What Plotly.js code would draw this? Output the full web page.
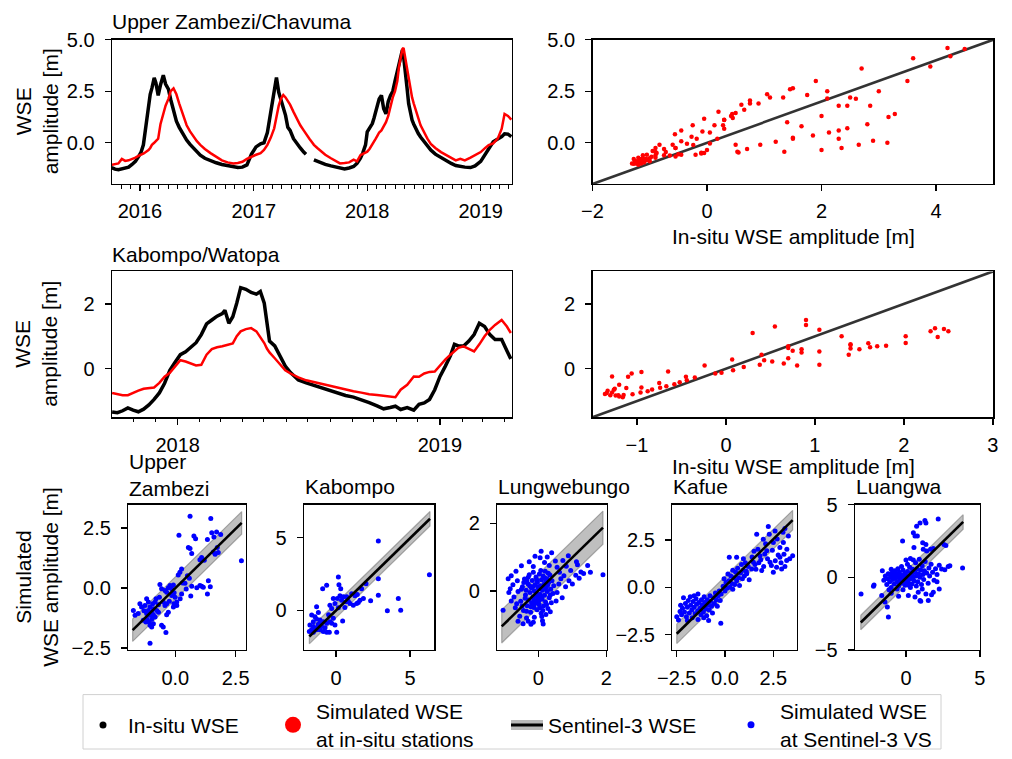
<!DOCTYPE html>
<html>
<head>
<meta charset="utf-8">
<script src="https://cdn.plot.ly/plotly-3.0.1.min.js"></script>
<style>html,body{margin:0;padding:0;background:#fff;}#chart{width:1012px;height:759px;}</style>
</head>
<body>
<div id="chart"></div>
<script>
// ---------------- DATA ----------------
// Upper Zambezi / Chavuma: [decimal year, in-situ WSE amplitude, simulated WSE amplitude]
const chavuma = [
[2015.75,-1.20,-1.07],[2015.78,-1.28,-1.02],[2015.81,-1.31,-1.00],[2015.84,-1.28,-0.78],
[2015.87,-1.25,-0.88],[2015.90,-1.18,-0.85],[2015.93,-1.05,-0.80],[2015.96,-0.90,-0.72],
[2015.99,-0.65,-0.62],[2016.01,-0.45,-0.58],[2016.03,-0.10,-0.52],[2016.045,0.55,-0.47],
[2016.06,1.35,-0.43],[2016.075,2.00,-0.35],[2016.09,2.35,-0.25],[2016.105,2.65,-0.10],
[2016.125,3.15,0.00],[2016.14,2.90,0.10],[2016.16,2.30,0.20],[2016.18,2.80,0.90],
[2016.205,3.28,1.40],[2016.225,2.85,1.80],[2016.25,2.60,2.13],[2016.27,2.10,2.50],
[2016.295,1.50,2.64],[2016.32,1.05,2.35],[2016.345,0.75,1.90],[2016.37,0.50,1.45],
[2016.39,0.30,1.10],[2016.41,0.13,0.85],[2016.44,-0.08,0.55],[2016.47,-0.27,0.29],
[2016.50,-0.45,0.08],[2016.53,-0.60,-0.10],[2016.57,-0.75,-0.30],[2016.62,-0.88,-0.50],
[2016.67,-0.97,-0.68],[2016.72,-1.05,-0.85],[2016.77,-1.10,-0.95],[2016.82,-1.15,-1.00],
[2016.86,-1.20,-0.98],[2016.90,-1.18,-0.92],[2016.94,-1.07,-0.78],[2016.98,-0.55,-0.67],
[2017.02,-0.20,-0.58],[2017.06,-0.05,-0.50],[2017.09,0.00,-0.35],[2017.12,0.50,-0.10],
[2017.15,1.50,0.25],[2017.18,2.45,0.70],[2017.20,3.17,1.25],[2017.22,2.45,1.80],
[2017.24,2.10,2.15],[2017.26,1.75,2.32],[2017.28,1.33,2.20],[2017.30,0.75,2.05],
[2017.32,0.60,1.85],[2017.35,0.20,1.50],[2017.38,-0.05,1.17],[2017.41,-0.25,0.85],
[2017.44,-0.45,0.60],[2017.46,-0.56,0.42],[2017.49,null,0.20],[2017.51,null,0.05],
[2017.53,-0.83,-0.10],[2017.56,-0.90,-0.25],[2017.59,-0.95,-0.40],[2017.63,-1.05,-0.58],
[2017.68,-1.12,-0.75],[2017.72,-1.18,-0.88],[2017.76,-1.24,-1.00],[2017.80,-1.27,-0.98],
[2017.84,-1.22,-0.95],[2017.88,-1.15,-0.82],[2017.91,-1.00,-0.90],[2017.94,-0.75,-0.60],
[2017.96,-0.50,-0.55],[2017.985,-0.10,-0.48],[2018.00,0.53,-0.43],[2018.02,0.70,-0.30],
[2018.045,0.93,-0.10],[2018.06,1.20,0.05],[2018.075,1.50,0.20],[2018.09,1.85,0.35],
[2018.105,2.13,0.50],[2018.125,2.30,0.60],[2018.145,1.65,0.80],[2018.165,1.40,1.00],
[2018.185,2.00,1.30],[2018.205,2.30,1.80],[2018.225,2.50,2.20],[2018.245,3.00,2.50],
[2018.265,3.50,3.00],[2018.28,3.90,3.70],[2018.295,4.25,4.20],[2018.31,4.50,4.55],
[2018.32,4.20,4.60],[2018.335,3.60,4.10],[2018.35,2.70,3.60],[2018.365,1.90,3.00],
[2018.38,1.45,2.60],[2018.395,1.10,2.20],[2018.41,0.90,1.90],[2018.43,0.65,1.60],
[2018.45,0.45,1.20],[2018.47,0.28,0.85],[2018.50,0.05,0.50],[2018.53,-0.18,0.20],
[2018.56,-0.35,-0.05],[2018.60,-0.55,-0.25],[2018.65,-0.72,-0.45],[2018.70,-0.90,-0.62],
[2018.74,-1.00,-0.75],[2018.78,-1.10,-0.85],[2018.82,-1.15,-0.78],[2018.86,-1.18,-0.85],
[2018.91,-1.20,-0.72],[2018.95,-1.12,-0.60],[2019.00,-0.90,-0.45],[2019.04,-0.55,-0.25],
[2019.07,-0.24,-0.11],[2019.11,0.05,-0.03],[2019.15,0.18,0.20],[2019.185,0.30,0.68],
[2019.21,0.44,1.40],[2019.24,0.42,1.30],[2019.27,0.30,1.12]
];

// Kabompo / Watopa: [decimal year, in-situ, simulated]
const watopa = [
[2017.75,-1.34,-0.75],[2017.77,-1.36,-0.78],[2017.79,-1.30,-0.82],[2017.81,-1.21,-0.82],
[2017.83,-1.28,-0.74],[2017.85,-1.33,-0.68],[2017.87,-1.25,-0.62],[2017.89,-1.12,-0.60],
[2017.91,-0.95,-0.58],[2017.93,-0.75,-0.44],[2017.95,-0.45,-0.25],[2017.97,-0.05,-0.13],
[2017.99,0.20,0.05],[2018.01,0.43,0.26],[2018.03,0.52,0.22],[2018.05,0.65,0.16],
[2018.07,0.80,0.10],[2018.09,1.05,0.12],[2018.11,1.38,0.43],[2018.13,1.50,0.60],
[2018.15,1.62,0.66],[2018.17,1.70,0.69],[2018.18,1.80,0.71],[2018.195,1.40,0.73],
[2018.21,1.60,0.78],[2018.225,2.02,1.00],[2018.24,2.50,1.15],[2018.26,2.45,1.22],
[2018.28,2.35,1.25],[2018.30,2.30,1.15],[2018.315,2.38,0.98],[2018.33,2.02,0.79],
[2018.34,1.40,0.62],[2018.35,0.85,0.50],[2018.37,0.70,0.32],[2018.39,0.38,0.12],
[2018.41,0.08,-0.05],[2018.43,-0.12,-0.15],[2018.46,-0.35,-0.27],[2018.49,-0.44,-0.36],
[2018.52,-0.52,-0.42],[2018.55,-0.58,-0.48],[2018.58,-0.67,-0.54],[2018.61,-0.74,-0.59],
[2018.64,-0.83,-0.64],[2018.67,-0.88,-0.70],[2018.70,-0.96,-0.74],[2018.73,-1.05,-0.79],
[2018.76,-1.15,-0.81],[2018.785,-1.24,-0.83],[2018.81,-1.20,-0.86],[2018.83,-1.16,-0.88],
[2018.85,-1.26,-0.65],[2018.875,-1.20,-0.50],[2018.90,-1.28,-0.24],[2018.92,-1.10,-0.25],
[2018.94,-1.06,-0.15],[2018.96,-0.95,-0.10],[2018.98,-0.65,-0.09],[2019.00,-0.24,0.10],
[2019.02,0.07,0.28],[2019.04,0.40,0.43],[2019.055,0.75,0.55],[2019.07,0.70,0.64],
[2019.09,0.70,0.69],[2019.11,0.85,0.60],[2019.13,1.05,0.53],[2019.15,1.40,0.75],
[2019.17,1.30,1.00],[2019.19,1.05,1.20],[2019.21,0.90,1.35],[2019.235,0.90,1.50],
[2019.255,0.55,1.30],[2019.27,0.30,1.10]
];

// Sentinel-3 virtual stations: [in-situ (observed) amplitude, simulated amplitude]
const upperZambeziVS = [
[0.61,2.99],[1.47,2.89],[0.15,2.19],[0.77,2.16],[0.84,2.05],[1.33,2.02],[1.51,2.3],[1.71,2.33],[1.88,2.23],[1.6,2.12],
[2.74,1.13],[0.54,1.68],[0.61,1.64],[0.68,1.43],[1.09,1.27],[1.02,1.17],[1.58,1.5],[1.65,1.4],[1.78,1.47],[1.74,1.68],
[0.19,0.65],[0.26,0.79],[0.12,0.54],[0.5,0.51],[0.58,0.4],[0.4,0.19],[0.68,0.07],[0.89,0.01],[1.02,0.1],[1.09,0.07],
[1.16,0.03],[1.37,0.3],[1.33,-0.25],[0.64,-0.34],[0.26,-0.25],[-0.22,0.1],[-0.15,-0.04],[-0.29,0.01],[-0.08,0.12],[-0.64,0.14],
[-0.57,-0.04],[-0.43,-0.11],[-0.36,-0.18],[-0.15,-0.32],[-0.01,-0.39],[0.06,-0.59],[-0.06,-0.66],[-0.25,-0.56],[0.06,-0.73],[-0.08,-0.8],
[-0.66,-0.39],[-0.8,-0.45],[-0.84,-0.59],[-0.94,-0.66],[-0.5,-0.59],[-0.43,-0.73],[-0.36,-0.66],[-0.29,-1.01],[-0.36,-1.12],[-1.19,-0.45],
[-1.12,-0.59],[-1.26,-0.73],[-1.05,-0.8],[-0.91,-0.87],[-0.77,-0.94],[-0.7,-1.01],[-1.12,-0.94],[-1.19,-1.07],[-1.05,-1.14],[-0.98,-1.01],
[-0.91,-1.12],[-0.84,-1.21],[-0.98,-1.31],[-1.08,-1.42],[-1.05,-1.56],[-0.98,-1.63],[-0.91,-1.49],[-0.57,-1.56],[-0.5,-1.63],[-0.39,-1.86],
[-1.05,-2.31],[-1.74,-0.94],[-1.54,-1.07],[-1.4,-0.8],[-1.47,-0.66],[-1.67,-1.14],[-1.19,-1.28],[-1.33,-1.35],[-1.22,-1.42],
[1.45,0.05],[1.2,1.15],[0.3,0.2],[-0.05,-0.2],[0.2,-0.45],[0.45,-0.05],[-0.7,-0.7],[-1.3,-0.95]
];
const kabompoVS = [
[2.86,4.77],[6.31,2.44],[2.86,2.17],[2.86,1.04],[0.16,2.29],[-0.9,1.49],[-0.63,1.72],[0.2,1.76],[0.32,1.49],[4.21,0.81],
[3.47,-0.02],[4.37,0.02],[2.34,0.66],[2.03,1.83],[1.73,1.49],[1.06,1.15],[1.28,1.0],[1.44,1.09],[1.51,0.54],[0.27,1.0],
[0.5,0.93],[0.72,0.93],[0.09,0.81],[0.38,0.7],[0.83,0.63],[0.95,0.48],[0.68,0.59],[-0.18,0.81],[-0.07,0.48],[-0.41,0.36],
[-0.29,0.14],[0.16,0.18],[0.45,-0.72],[0.05,-1.49],[-0.63,-1.49],[-0.45,-1.49],[-1.31,0.25],[-1.64,-0.32],[-1.19,-0.14],[-1.42,-0.43],
[-1.08,-0.66],[-0.86,-0.77],[-0.63,-0.88],[-0.41,-0.77],[-0.18,-0.54],[-0.29,-0.88],[-0.07,-1.0],[-1.76,-1.0],[-1.53,-1.11],[-1.42,-1.22],
[-1.31,-1.33],[-1.08,-1.33],[-0.86,-1.45],[-1.64,-1.33],[-1.53,-1.49],[-1.8,-1.45],[-1.19,-0.95],[-0.97,-1.11],[-0.74,-1.18],[-1.31,-0.59],
[-1.53,-0.77],[1.17,0.36],[1.4,0.48],[1.62,0.7],[1.85,0.81],[-1.2,-1.1],[-1.0,-0.9],[-0.5,-0.3],[0.6,0.2]
];
const lungwebungoVS = [
[-0.52,-0.31],[-0.47,0.12],[-0.44,-0.58],[-0.41,0.35],[-0.38,-0.12],[-0.36,0.02],[-0.33,-0.44],[-0.31,0.21],[-0.29,-0.27],[-0.27,0.48],
[-0.25,-0.05],[-0.23,-0.63],[-0.21,0.09],[-0.2,-0.36],[-0.18,0.31],[-0.16,-0.18],[-0.15,0.55],[-0.13,-0.49],[-0.12,0.0],[-0.1,0.18],
[-0.09,-0.29],[-0.07,0.41],[-0.06,-0.08],[-0.04,-0.56],[-0.03,0.26],[-0.01,-0.21],[0.0,0.07],[0.02,-0.4],[0.03,0.5],[0.05,-0.1],
[0.06,0.15],[0.08,-0.66],[0.09,0.33],[0.11,-0.25],[0.12,0.02],[0.14,0.44],[0.15,-0.45],[0.17,0.2],[0.18,-0.13],[0.2,0.58],
[0.21,-0.33],[0.23,0.1],[0.25,0.36],[0.26,-0.02],[0.28,-0.52],[0.3,0.25],[0.32,-0.2],[0.34,0.47],[0.36,0.05],[0.38,-0.35],
[0.4,0.3],[0.43,-0.08],[0.45,0.15],[-0.48,-0.45],[-0.43,0.25],[-0.35,-0.6],[-0.3,0.4],[-0.22,-0.47],[-0.17,0.12],[-0.11,-0.38],
[-0.05,0.33],[0.01,-0.3],[0.07,0.6],[0.13,-0.58],[0.19,0.38],[0.24,-0.4],[0.29,0.52],[0.35,-0.12],[-0.5,0.05],[-0.39,-0.22],
[-0.26,0.15],[-0.14,-0.26],[-0.02,0.12],[0.1,-0.17],[0.22,0.27],[-0.34,0.3],[0.04,-0.5],[0.16,0.08],[-0.08,-0.14],[0.27,0.17],
[0.08,1.17],[0.39,1.13],[-0.1,1.02],[0.05,0.98],[0.26,1.0],[0.88,1.04],[-0.27,0.86],[0.18,0.84],[0.5,0.88],[0.72,0.9],
[1.12,0.86],[-0.5,0.74],[-0.15,0.72],[0.32,0.75],[0.55,0.7],[0.82,0.73],[1.15,0.77],[1.45,0.75],
[0.62,0.55],[0.95,0.6],[1.25,0.56],[1.53,0.55],[0.75,0.45],[1.1,0.46],[1.33,0.51],[1.9,0.48],[0.66,0.36],[0.9,0.3],
[1.2,0.37],[0.6,0.2],[0.8,0.12],[1.0,0.2],[0.55,-0.05],[0.7,-0.2],[0.52,-0.3],
[-0.66,0.58],[-0.8,0.45],[-0.62,0.3],[-0.89,0.36],[-0.75,0.18],[-0.83,0.06],[-0.6,-0.02],[-0.87,-0.05],[-0.72,-0.18],[-0.8,-0.3],
[-0.64,-0.38],[-1.04,-0.57],[-0.68,-0.5],
[-0.55,-0.75],[-0.35,-0.8],[-0.12,-0.78],[0.1,-0.76],[0.22,-0.7],[-0.6,-0.9],[-0.3,-0.9],[-0.15,-0.93],[0.12,-0.88],[-0.45,-0.97],
[-0.22,-0.99],[0.14,-0.98],[0.35,-0.62]
];
const kafueVS = [
[-2.5,-1.55],[-2.41,-1.72],[-2.33,-1.28],[-2.25,-1.45],[-2.2,-1.1],[-2.15,-0.55],[-2.1,-1.3],[-2.05,-0.85],[-2.0,-1.55],[-1.95,-1.05],
[-1.9,-0.7],[-1.85,-1.35],[-1.8,-0.5],[-1.78,-0.95],[-1.72,-1.2],[-1.7,-1.6],[-1.65,-0.75],[-1.6,-1.05],[-1.55,-1.4],[-1.5,-0.6],
[-1.47,-0.9],[-1.42,-1.25],[-1.4,-1.7],[-1.35,-0.8],[-1.3,-1.1],[-1.25,-1.45],[-1.22,-0.65],[-1.18,-0.95],[-1.12,-1.3],[-1.08,-0.5],
[-1.05,-0.8],[-1.0,-1.15],[-0.95,-1.5],[-0.92,-0.65],[-0.88,-0.95],[-0.82,-1.2],[-0.78,-0.45],[-0.75,-0.75],[-0.7,-1.0],[-0.65,-1.35],
[-0.6,-0.55],[-0.55,-0.85],[-0.5,-0.3],[-0.45,-0.65],[-0.4,-1.0],[-0.35,-0.45],[-0.3,-0.2],[-0.25,-0.7],[-0.22,-1.9],[-1.6,-0.45],
[-2.3,-0.95],[-1.95,-1.75],[-1.1,-1.6],[-0.85,-1.75],[-1.4,-0.35],
[-0.2,-0.35],[-0.1,0.05],[0.0,-0.2],[0.05,0.25],[0.1,-0.05],[0.2,0.35],[0.25,0.0],[0.3,0.6],[0.35,0.2],[0.4,-0.1],
[0.45,0.5],[0.5,0.15],[0.55,0.8],[0.6,0.35],[0.65,1.0],[0.7,0.5],[0.75,0.1],[0.8,0.75],[0.85,1.2],[0.9,0.45],
[0.95,0.9],[1.0,0.6],[1.05,1.3],[1.1,0.85],[0.22,1.58],[0.6,1.58],[0.95,1.5],[1.2,1.1],[1.25,0.4],[0.15,0.7],
[-0.05,0.45],[0.4,0.9],
[1.64,2.8],[2.29,2.8],[1.98,2.53],[2.5,2.36],[2.84,2.1],[3.05,1.74],[3.5,1.67],[2.16,1.93],[1.81,1.67],[1.47,1.32],
[2.33,1.32],[2.67,1.06],[2.93,0.97],[1.9,0.88],[1.38,0.97],[1.12,0.71],[2.5,0.8],[3.19,1.41],[2.84,1.58],[3.02,2.36],
[3.28,2.71],[2.59,2.97],[1.4,1.6],[1.55,1.2],[1.7,2.0],[1.85,1.45],[2.0,1.1],[2.05,1.75],[2.2,1.5],[2.4,1.15],
[2.45,1.95],[2.6,1.4],[2.75,1.7],[2.9,1.3],[3.1,1.1],[3.2,2.0],[3.35,1.5],[1.5,1.9],[1.6,0.95],[1.75,1.3],
[2.1,2.3],[2.7,2.55],[3.0,2.9],[3.1,3.1],[2.24,3.2]
];
const luangwaVS = [
[2.18,4.02],[1.28,3.91],[0.95,3.75],[1.35,3.75],[0.72,3.52],[0.5,3.07],[0.61,2.84],[0.77,2.84],[-0.23,2.5],[0.54,2.05],
[1.13,2.39],[1.35,2.27],[1.17,1.93],[1.4,1.82],[1.67,1.93],[1.85,1.98],[2.57,2.27],[2.7,2.2],[3.83,0.64],[2.86,0.75],
[2.97,0.8],[2.41,0.57],[2.63,0.52],[2.25,0.84],[-3.04,-1.14],[-2.16,-0.52],[-2.2,-0.61],[-1.19,-2.73],[-1.64,-1.25],[-1.42,-1.7],
[-1.26,-2.05],[0.16,-1.25],[0.61,-1.36],[0.95,-1.59],[1.35,-1.14],[1.51,-1.59],[1.73,-1.2],[0.83,-1.02],[1.85,-1.02],[2.25,-0.8],
[1.0,-1.65],[2.1,-0.3],
[-1.5,-0.2],[-1.4,0.1],[-1.3,-0.5],[-1.25,-0.1],[-1.2,0.25],[-1.1,-0.3],[-1.05,0.0],[-1.0,-0.7],[-0.95,0.3],[-0.9,-0.15],
[-0.85,0.1],[-0.8,-0.45],[-0.75,0.45],[-0.7,-0.05],[-0.65,0.2],[-0.6,-0.3],[-0.55,0.05],[-0.5,-0.6],[-0.45,0.35],[-0.4,-0.1],
[-0.35,0.15],[-0.3,-0.4],[-0.25,0.0],[-0.2,0.5],[-0.15,-0.2],[-0.1,0.25],[-0.05,-0.55],[0.0,0.1],[0.05,-0.15],[0.1,0.4],
[0.15,-0.35],[0.2,0.05],[0.25,0.7],[0.3,-0.1],[0.35,0.3],[0.4,-0.45],[0.45,0.55],[0.5,0.0],[0.55,-0.25],[0.6,0.35],
[0.65,1.0],[0.7,0.1],[0.75,0.6],[0.8,-0.3],[0.85,0.25],[0.9,1.25],[0.95,0.0],[1.0,0.5],[1.05,-0.5],[1.1,0.8],
[1.15,0.2],[1.2,-0.15],[1.25,0.45],[1.3,1.1],[1.4,0.3],[1.5,-0.4],[1.55,0.65],[1.6,0.1],[1.7,0.9],[1.8,0.35],
[1.9,-0.2],[2.0,0.6],[2.1,0.2],[-0.6,-0.8],[-0.2,-0.85],[0.3,-0.7],[-1.0,0.55],[-0.3,0.75],[0.1,0.9],[0.5,1.2],
[-0.55,0.6],[0.2,-0.55],[0.0,-0.3],[-0.45,-0.35],[-0.8,0.2],[0.4,0.15],[0.7,-0.6],[1.1,-0.8],[-1.6,0.45],[-1.15,-0.85],
[0.3,1.3],[0.0,1.2],[-0.5,-1.3],[-1.0,-1.1]
];

// Sentinel-3 fit lines (end points) and band half-widths
const basinNames = ['Upper<br>Zambezi', 'Kabompo', 'Lungwebungo', 'Kafue', 'Luangwa'];
const fitX = [[-1.77, 2.75], [-1.8, 6.35], [-1.08, 1.9], [-2.5, 3.5], [-3.06, 3.87]];
const fitY = [[-1.76, 2.71], [-1.79, 6.29], [-1.05, 1.87], [-2.45, 3.54], [-3.11, 3.82]];
const bandHalf = [0.47, 0.5, 0.49, 0.52, 0.5];
const oneToOneTop = [-2, 5];
const oneToOneMid = [-1.5, 3];

const stationTitles = ['Upper Zambezi/Chavuma', 'Kabompo/Watopa'];
const legendNames = ['In-situ WSE', 'Simulated WSE<br>at in-situ stations', 'Sentinel-3 WSE', 'Simulated WSE<br>at Sentinel-3 VS'];

// ---------------- HELPERS ----------------
const W = 1012, H = 759;
const FONT = 'Liberation Sans, Arial, Helvetica, sans-serif';
const px = v => v / W;
const py = v => 1 - v / H;
function tToDate(t) {
  const y = Math.floor(t);
  const a = Date.UTC(y, 0, 1), b = Date.UTC(y + 1, 0, 1);
  return new Date(a + (t - y) * (b - a)).toISOString().slice(0, 19).replace('T', ' ');
}
const col = (arr, i) => arr.map(r => r[i]);
const pairs = (arr) => arr.filter(r => r[1] !== null && r[2] !== null);

function axisBase(extra) {
  return Object.assign({
    showline: true, linecolor: '#000', linewidth: 1.4, mirror: true,
    ticks: 'outside', ticklen: 6, tickwidth: 1.4, tickcolor: '#000',
    showgrid: false, zeroline: false, tickfont: {size: 20, color: '#000', family: FONT},
    fixedrange: true
  }, extra);
}

// ---------------- TRACES ----------------
const data = [];
// Top-left time series
data.push({x: chavuma.map(r => tToDate(r[0])), y: col(chavuma, 1), xaxis: 'x', yaxis: 'y', mode: 'lines',
  line: {color: '#000', width: 3.5}, connectgaps: false, showlegend: false});
data.push({x: chavuma.map(r => tToDate(r[0])), y: col(chavuma, 2), xaxis: 'x', yaxis: 'y', mode: 'lines',
  line: {color: '#ff0000', width: 2.5}, showlegend: false});
// Top-right scatter
data.push({x: oneToOneTop, y: oneToOneTop, xaxis: 'x2', yaxis: 'y2', mode: 'lines',
  line: {color: 'rgba(0,0,0,0.8)', width: 2.6}, showlegend: false});
data.push({x: col(pairs(chavuma), 1), y: col(pairs(chavuma), 2), xaxis: 'x2', yaxis: 'y2', mode: 'markers',
  marker: {color: '#ff0000', size: 4.5}, showlegend: false});
// Middle-left time series
data.push({x: watopa.map(r => tToDate(r[0])), y: col(watopa, 1), xaxis: 'x3', yaxis: 'y3', mode: 'lines',
  line: {color: '#000', width: 3.5}, showlegend: false});
data.push({x: watopa.map(r => tToDate(r[0])), y: col(watopa, 2), xaxis: 'x3', yaxis: 'y3', mode: 'lines',
  line: {color: '#ff0000', width: 2.5}, showlegend: false});
// Middle-right scatter
data.push({x: oneToOneMid, y: oneToOneMid, xaxis: 'x4', yaxis: 'y4', mode: 'lines',
  line: {color: 'rgba(0,0,0,0.8)', width: 2.6}, showlegend: false});
data.push({x: col(pairs(watopa), 1), y: col(pairs(watopa), 2), xaxis: 'x4', yaxis: 'y4', mode: 'markers',
  marker: {color: '#ff0000', size: 4.5}, showlegend: false});

// Bottom Sentinel-3 panels
const vsSets = [upperZambeziVS, kabompoVS, lungwebungoVS, kafueVS, luangwaVS];
vsSets.forEach((pts, i) => {
  const ax = 'x' + (i + 5), ay = 'y' + (i + 5);
  const [x0, x1] = fitX[i], [y0, y1] = fitY[i], h = bandHalf[i];
  data.push({x: [x0, x1, x1, x0, x0], y: [y0 + h, y1 + h, y1 - h, y0 - h, y0 + h], xaxis: ax, yaxis: ay,
    mode: 'lines', fill: 'toself', fillcolor: 'rgba(128,128,128,0.5)',
    line: {color: 'rgba(90,90,90,0.45)', width: 1.2}, showlegend: false});
  data.push({x: col(pts, 0), y: col(pts, 1), xaxis: ax, yaxis: ay, mode: 'markers',
    marker: {color: '#0000ff', size: 5}, showlegend: false});
  data.push({x: fitX[i], y: fitY[i], xaxis: ax, yaxis: ay, mode: 'lines',
    line: {color: '#000', width: 2.6}, showlegend: false});
});

// Legend entries (legend-only handles)
data.push({x: [null], y: [null], xaxis: 'x2', yaxis: 'y2', mode: 'markers', name: legendNames[0],
  marker: {color: '#000', size: 7}, legend: 'legend'});
data.push({x: [null], y: [null], xaxis: 'x2', yaxis: 'y2', mode: 'markers', name: legendNames[1],
  marker: {color: '#ff0000', size: 17}, legend: 'legend2'});
data.push({x: [null], y: [null], xaxis: 'x2', yaxis: 'y2', mode: 'lines', name: legendNames[2],
  line: {color: 'rgb(185,185,185)', width: 10}, legend: 'legend3'});
data.push({x: [null], y: [null], xaxis: 'x2', yaxis: 'y2', mode: 'lines', name: legendNames[2],
  line: {color: '#000', width: 3}, legend: 'legend5'});
data.push({x: [null], y: [null], xaxis: 'x2', yaxis: 'y2', mode: 'markers', name: legendNames[3],
  marker: {color: '#0000ff', size: 7}, legend: 'legend4'});

// ---------------- LAYOUT ----------------
const topY = [py(186), py(40)], midY = [py(421.7), py(274.3)], botY = [py(657), py(510)];
const leftX = [px(112), px(512)], rightX = [px(592.5), px(993.3)];
const botX = [[128.3, 246], [304, 434.3], [497.3, 606.7], [672.3, 796.7], [855, 980]];
const botXR = [[-1.95, 2.93], [-2.16, 6.64], [-1.21, 2.01], [-2.73, 3.71], [-3.45, 5.01]];
const botYR = [[-2.59, 3.47], [-2.72, 7.26], [-1.75, 2.55], [-3.31, 4.36], [-5.01, 5.01]];
const botDt = [2.5, 5, 2, 2.5, 5];
const botFmt = ['.1f', 'd', 'd', '.1f', 'd'];

const dateAxis = (dom, range, anchor) => axisBase({
  type: 'date', domain: dom, range: range, anchor: anchor, dtick: 'M12', tick0: '2016-01-01',
  tickformat: '%Y', ticklabelstandoff: 3,
  minor: {dtick: 'M1', tick0: '2016-01-01', ticks: 'outside', ticklen: 3.5, tickwidth: 1, tickcolor: '#000', showgrid: false}
});

const layout = {
  width: W, height: H, margin: {l: 0, r: 0, t: 0, b: 0},
  paper_bgcolor: '#fff', plot_bgcolor: '#fff',
  font: {family: FONT, size: 20, color: '#000'},
  xaxis: dateAxis(leftX, [tToDate(2015.7535), tToDate(2019.2756)], 'y'),
  yaxis: axisBase({domain: topY, range: [-2, 5.005], anchor: 'x', dtick: 2.5, tick0: 0, tickformat: '.1f', ticklabelstandoff: 6}),
  xaxis2: axisBase({domain: rightX, range: [-2, 5], anchor: 'y2', dtick: 2, tick0: 0, ticklabelstandoff: 3}),
  yaxis2: axisBase({domain: topY, range: [-2, 5.005], anchor: 'x2', dtick: 2.5, tick0: 0, tickformat: '.1f', ticklabelstandoff: 6}),
  xaxis3: dateAxis(leftX, [tToDate(2017.7495), tToDate(2019.2745)], 'y3'),
  yaxis3: axisBase({domain: midY, range: [-1.5, 3], anchor: 'x3', dtick: 2, tick0: 0, ticklabelstandoff: 6}),
  xaxis4: axisBase({domain: rightX, range: [-1.5, 3.005], anchor: 'y4', dtick: 1, tick0: 0, ticklabelstandoff: 3}),
  yaxis4: axisBase({domain: midY, range: [-1.5, 3], anchor: 'x4', dtick: 2, tick0: 0, ticklabelstandoff: 6}),
  shapes: [{type: 'rect', xref: 'paper', yref: 'paper', x0: px(83), x1: px(941), y0: py(757), y1: py(702),
    line: {color: '#d0d0d0', width: 1}, fillcolor: 'rgba(255,255,255,0.8)', layer: 'below'}],
  annotations: []
};
for (let i = 0; i < 5; i++) {
  layout['xaxis' + (i + 5)] = axisBase({domain: [px(botX[i][0]), px(botX[i][1])], range: botXR[i], anchor: 'y' + (i + 5),
    dtick: botDt[i], tick0: 0, tickformat: botFmt[i], ticklabelstandoff: 4});
  layout['yaxis' + (i + 5)] = axisBase({domain: botY, range: botYR[i], anchor: 'x' + (i + 5),
    dtick: botDt[i], tick0: 0, tickformat: botFmt[i], ticklabelstandoff: 6});
}

const legendCommon = {yref: 'paper', xref: 'paper', y: py(733), yanchor: 'middle', xanchor: 'left',
  bgcolor: 'rgba(0,0,0,0)', borderwidth: 0, itemsizing: 'trace', valign: 'middle',
  font: {family: FONT, size: 21, color: '#000'}, tracegroupgap: 0};
layout.legend = Object.assign({}, legendCommon, {x: px(78), itemwidth: 40});
layout.legend2 = Object.assign({}, legendCommon, {x: px(270), itemwidth: 36});
layout.legend3 = Object.assign({}, legendCommon, {x: px(506), itemwidth: 32});
layout.legend5 = Object.assign({}, legendCommon, {x: px(506), itemwidth: 32, font: {family: FONT, size: 21, color: 'rgba(0,0,0,0)'}});
layout.legend4 = Object.assign({}, legendCommon, {x: px(722), itemwidth: 48});

function ann(text, x, y, o) {
  layout.annotations.push(Object.assign({text: text, xref: 'paper', yref: 'paper', x: px(x), y: py(y),
    showarrow: false, font: {family: FONT, size: 21, color: '#000'}, xanchor: 'left', yanchor: 'middle'}, o || {}));
}
ann(stationTitles[0], 110, 22);
ann(stationTitles[1], 110, 257);
ann('WSE<br>amplitude [m]', 36.5, 113, {xanchor: 'center', textangle: -90});
ann('WSE<br>amplitude [m]', 36.5, 348, {xanchor: 'center', textangle: -90});
ann('In-situ WSE amplitude [m]', 793, 471, {xanchor: 'center'});
ann('In-situ WSE amplitude [m]', 793, 239, {xanchor: 'center'});
ann('Simulated<br>WSE amplitude [m]', 37, 583, {xanchor: 'center', textangle: -90});
basinNames.forEach((n, i) => ann(n, botX[i][0] - 1, i === 0 ? 480 : 492, {align: 'left'}));

Plotly.newPlot('chart', data, layout, {staticPlot: true, displayModeBar: false});
</script>
</body>
</html>
